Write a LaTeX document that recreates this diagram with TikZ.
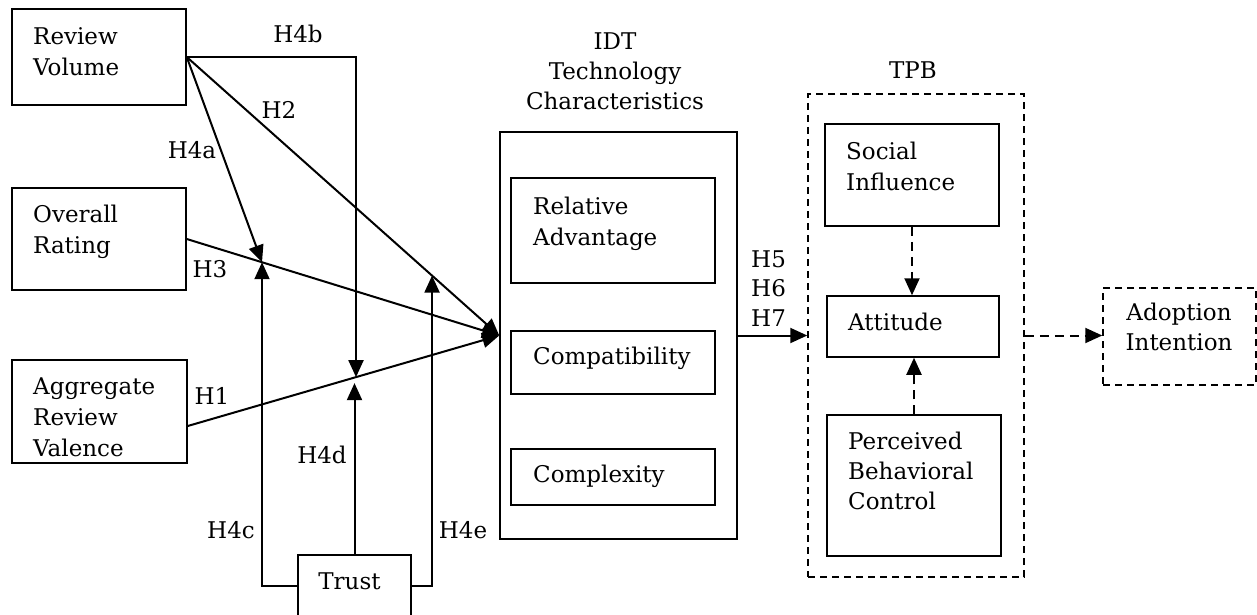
\documentclass[tikz,border=0pt]{standalone}
\usepackage{fontspec}
\setmainfont{DejaVu Serif}
\usetikzlibrary{arrows.meta,calc}
\begin{document}
\begin{tikzpicture}[x=1pt,y=-1pt,
  box/.style={draw,line width=1.5pt,inner sep=0pt,rectangle},
  dbox/.style={box,dash pattern=on 7pt off 5pt},
  txt/.style={font=\fontsize{23}{31}\selectfont,inner sep=0pt,align=left,anchor=north west},
  ctxt/.style={font=\fontsize{23}{30}\selectfont,inner sep=0pt,align=center,anchor=north},
  hl/.style={font=\fontsize{23}{30}\selectfont,inner sep=0pt,anchor=base},
  arr/.style={line width=2pt,-{Triangle[length=17pt,width=15pt]}},
  darr/.style={arr,dash pattern=on 9pt off 6pt},
]
\useasboundingbox (0,0) rectangle (1257,615);
\clip (0,0) rectangle (1257,615);

% boxes
\node[box,minimum width=174pt,minimum height=96pt] (rv) at (99,57) {};
\node[box,minimum width=174pt,minimum height=102pt] (ov) at (99,239) {};
\node[box,minimum width=175pt,minimum height=103pt] (ag) at (99.5,411.5) {};
\node[box,minimum width=113pt,minimum height=62pt] (tr) at (354.5,586) {};
\node[box,minimum width=237pt,minimum height=407pt] (idt) at (618.5,335.5) {};
\node[box,minimum width=204pt,minimum height=105pt] (ra) at (613,230.5) {};
\node[box,minimum width=204pt,minimum height=63pt] (cp) at (613,362.5) {};
\node[box,minimum width=204pt,minimum height=56pt] (cx) at (613,477) {};
\node[dbox,minimum width=216pt,minimum height=483pt] (tpb) at (916,335.5) {};
\node[box,minimum width=174pt,minimum height=102pt] (si) at (912,175) {};
\node[box,minimum width=172pt,minimum height=61pt] (at) at (913,326.5) {};
\node[box,minimum width=174pt,minimum height=141pt] (pbc) at (914,485.5) {};
\node[dbox,minimum width=153pt,minimum height=97pt] (ad) at (1179.5,336.5) {};

% texts
\node[txt] (rvt) at (33,27) {Review\\Volume};
\node[txt] (ovt) at (33,205) {Overall\\Rating};
\node[txt] (agt) at (33,378) {Aggregate\\Review\\Valence};
\node[ctxt] (trt) at (349.5,573) {Trust};
\node[ctxt] (idtt) at (615,33) {IDT\\Technology\\Characteristics};
\node[ctxt] (tpbt) at (913,62) {TPB};
\node[txt] (rat) at (533,197) {Relative\\Advantage};
\node[txt] (cpt) at (533,347) {Compatibility};
\node[txt] (cxt) at (533,465) {Complexity};
\node[txt] (sit) at (846,142) {Social\\Influence};
\node[txt] (att) at (848,313) {Attitude};
\node[txt,font=\fontsize{23}{30}\selectfont] (pbt) at (848,432) {Perceived\\Behavioral\\Control};
\node[ctxt] (adt) at (1179,303) {Adoption\\Intention};

% helper coordinates
\coordinate (c) at (idt.west);
\coordinate (agA) at ($(ag.east)+(0,14.5)$);
\coordinate (v1a) at (262,0);   \coordinate (v1b) at (262,600);
\coordinate (v2a) at (432,0);   \coordinate (v2b) at (432,600);
\coordinate (v3a) at (356,0);   \coordinate (v3b) at (356,600);
\coordinate (m1) at (intersection of ov.east--c and v1a--v1b);
\coordinate (m2) at (intersection of rv.east--c and v2a--v2b);
\coordinate (m3) at (intersection of agA--c and v3a--v3b);

% connectors
\draw[arr] (rv.east) -- (c);
\draw[arr] (ov.east) -- (c);
\draw[arr] (agA) -- (c);
\draw[arr] (rv.east) -- (m1);
\draw[arr] (rv.east) -| (m3);
\draw[arr] (tr.west) -| (m1);
\draw[arr] (tr.east) -| (m2);
\draw[arr] (tr.north) -- ($(tr.north |- m3)+(0,6)$);
\draw[arr] (idt.east) -- (idt.east -| tpb.west);
\draw[darr] (si.south) -- (si.south |- at.north);
\draw[darr] (pbc.north) -- (pbc.north |- at.south);
\draw[darr] (tpb.east) -- (tpb.east -| ad.west);

% hypothesis labels
\node[hl] (h4b) at (298,43) {H4b};
\node[hl] (h2) at (279,118) {H2};
\node[hl] (h4a) at (192,158) {H4a};
\node[hl] (h3) at (210,277) {H3};
\node[hl] (h1) at (212,404) {H1};
\node[hl] (h4d) at (322,463) {H4d};
\node[hl] (h4c) at (231,538) {H4c};
\node[hl] (h4e) at (463,538) {H4e};
\node[hl,anchor=base west] (h5) at (751,267) {H5};
\node[hl,anchor=base west] (h6) at (751,296) {H6};
\node[hl,anchor=base west] (h7) at (751,326) {H7};
\end{tikzpicture}
\end{document}
